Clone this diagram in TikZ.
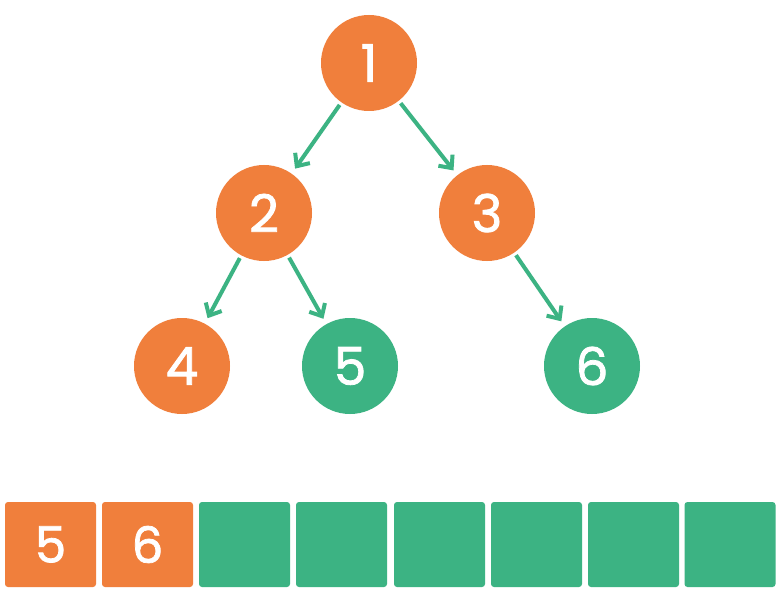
\documentclass[tikz,border=0pt]{standalone}
\usepackage{fontspec}
\setmainfont{Poppins}
\newfontfamily\digitfont{Poppins}[FakeBold=1.5]
\usetikzlibrary{arrows.meta}
\definecolor{orng}{HTML}{F07F3C}
\definecolor{grn}{HTML}{3CB383}
\tikzset{
  tnode/.style={circle, minimum size=96pt, inner sep=0pt, text=white, font=\digitfont\fontsize{52}{52}\selectfont},
  onode/.style={tnode, fill=orng},
  gnode/.style={tnode, fill=grn},
  cell/.style={rounded corners=3pt, minimum width=91pt, minimum height=85pt, inner sep=0pt, text=white, font=\digitfont\fontsize{50}{50}\selectfont},
  ocell/.style={cell, fill=orng},
  gcell/.style={cell, fill=grn},
  edge/.style={draw=grn, line width=4pt, shorten <=3pt, shorten >=6pt, -{Straight Barb[length=10pt,width=18pt,line width=4pt]}}
}
\begin{document}
\begin{tikzpicture}[x=1pt,y=-1pt]
\useasboundingbox[fill=white] (0,0) rectangle (781,596);
\node[onode] (n1) at (369,63) {1};
\node[onode] (n2) at (264,213) {2};
\node[onode] (n3) at (487,213) {3};
\node[onode] (n4) at (182,366) {4};
\node[gnode] (n5) at (350,366) {5};
\node[gnode] (n6) at (592,366) {6};
\draw[edge] (n1) -- (n2);
\draw[edge] (n1) -- (n3);
\draw[edge] (n2) -- (n4);
\draw[edge] (n2) -- (n5);
\draw[edge] (n3) -- (n6);
\node[ocell] (c1) at (50.5,544.5) {5};
\node[ocell] (c2) at (147.5,544.5) {6};
\node[gcell] (c3) at (244.5,544.5) {};
\node[gcell] (c4) at (341.5,544.5) {};
\node[gcell] (c5) at (439.5,544.5) {};
\node[gcell] (c6) at (536.5,544.5) {};
\node[gcell] (c7) at (633.5,544.5) {};
\node[gcell] (c8) at (730,544.5) {};
\end{tikzpicture}
\end{document}
